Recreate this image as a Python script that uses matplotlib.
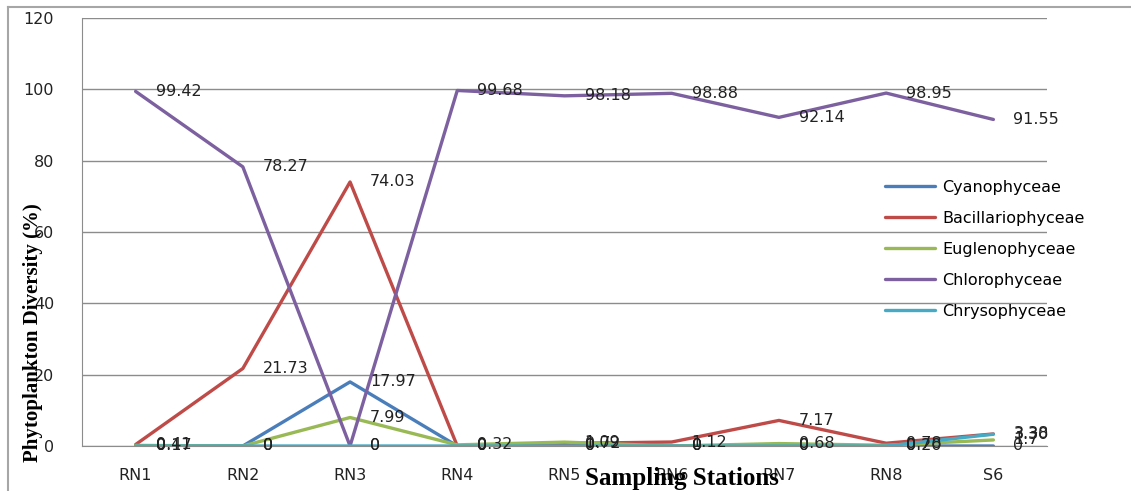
import matplotlib.pyplot as plt
from matplotlib.lines import Line2D

stations = ['RN1', 'RN2', 'RN3', 'RN4', 'RN5', 'RN6', 'RN7', 'RN8', 'S6']
cyanophyceae = [0, 0, 17.97, 0, 0, 0, 0, 0, 0]
bacillariophyceae = [0.41, 21.73, 74.03, 0, 0.72, 1.12, 7.17, 0.78, 3.38]
euglenophyceae = [0.17, 0, 7.99, 0.32, 1.09, 0, 0.68, 0.20, 1.7]
chlorophyceae = [99.42, 78.27, 0, 99.68, 98.18, 98.88, 92.14, 98.95, 91.55]
chrysophyceae = [0, 0, 0, 0, 0, 0, 0, 0, 3.30]
y_ticks = [0, 20, 40, 60, 80, 100, 120]

series = [
    ('Cyanophyceae', cyanophyceae, '#4a7ebb'),
    ('Bacillariophyceae', bacillariophyceae, '#be4b48'),
    ('Euglenophyceae', euglenophyceae, '#98b954'),
    ('Chlorophyceae', chlorophyceae, '#7d60a0'),
    ('Chrysophyceae', chrysophyceae, '#46aac5'),
]
# points whose value was entered with one decimal
one_decimal = {('Euglenophyceae', 'S6')}


def fmt(name, station, v):
    if v == 0:
        return '0'
    if (name, station) in one_decimal:
        return '%.1f' % v
    return '%.2f' % v


W, H = 1131, 491
fig = plt.figure(figsize=(W / 100, H / 100), dpi=100)
ax = fig.add_axes([82 / W, 1 - 446 / H, (1047 - 82) / W, (446 - 18) / H])

x = list(range(len(stations)))
for name, vals, color in series:
    ax.plot(x, vals, color=color, lw=2.4, label=name, solid_capstyle='round')

# value labels to the right of each point
for name, vals, color in series:
    for xi, st, v in zip(x, stations, vals):
        ax.annotate(fmt(name, st, v), (xi, v), xytext=(20, 0), textcoords='offset pixels',
                    ha='left', va='center', fontsize=11.5, color='#222222')

ax.set_xlim(-0.5, len(stations) - 0.5)
ax.set_ylim(0, 120)
ax.set_yticks(y_ticks)
ax.set_xticks(x)
ax.set_xticklabels(stations)
ax.tick_params(axis='both', length=0, labelsize=11.5, colors='#222222')
ax.tick_params(axis='x', pad=16)
ax.tick_params(axis='y', pad=20)
ax.yaxis.grid(True, color='#8c8c8c', lw=1)
ax.set_axisbelow(True)
for side in ['top', 'right']:
    ax.spines[side].set_visible(False)
ax.spines['left'].set_color('#8c8c8c')
ax.spines['bottom'].set_color('#8c8c8c')

fig.legend(loc='upper left', bbox_to_anchor=(885 / W, 1 - 180 / H),
           bbox_transform=fig.transFigure, frameon=False, fontsize=11.5,
           handlelength=3.1, handletextpad=0.5, labelspacing=1.0,
           borderpad=0, borderaxespad=0)

fig.text(33 / W, 1 - 333 / H, 'Phytoplankton Diversity (%)', rotation=90,
         ha='center', va='center', fontsize=15, fontweight='bold',
         family='Liberation Serif')
fig.text(682 / W, 1 - 479 / H, 'Sampling Stations', ha='center', va='center',
         fontsize=18, fontweight='bold', family='Liberation Serif')

# outer frame
fig.add_artist(Line2D([8 / W, 8 / W], [0, 1 - 7 / H], color='#a6a6a6', lw=1.5,
                      transform=fig.transFigure))
fig.add_artist(Line2D([8 / W, 1], [1 - 7 / H, 1 - 7 / H], color='#a6a6a6', lw=1.5,
                      transform=fig.transFigure))

fig.savefig('out.png', dpi=100)
